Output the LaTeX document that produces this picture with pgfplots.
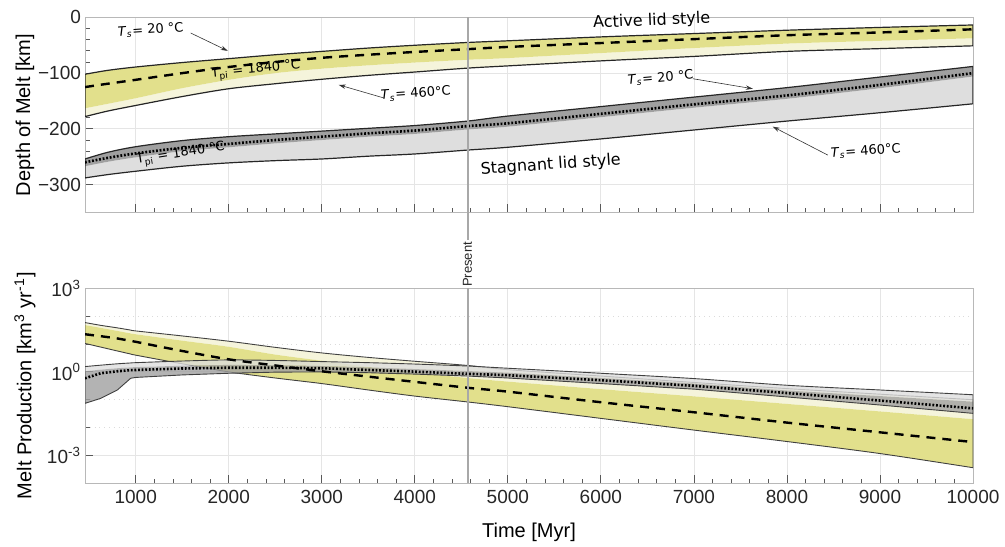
\documentclass[border=0pt]{standalone}
\usepackage{fontspec}
\setmainfont{Liberation Sans}
\newfontfamily\dv{DejaVu Sans}
\usepackage{pgfplots}
\usepackage{pgfplotstable}
\pgfplotsset{compat=1.18}
\usepgfplotslibrary{fillbetween}
\usetikzlibrary{arrows.meta}

\definecolor{ylw}{HTML}{E2E08C}
\definecolor{ylwpale}{HTML}{F5F4DB}
\definecolor{gdark}{HTML}{A0A0A0}
\definecolor{glight}{HTML}{DEDEDE}
\definecolor{presentc}{HTML}{A8A8A8}

% depth of melt [km]: active lid (a) and stagnant lid (s)
\pgfplotstableread{
t Ua Da Ma La Us Ds Ms Ls
455 -102 -125 -163 -178 -254 -260 -267 -288
700 -95 -119 -155 -168 -242 -252 -259 -282
1000 -89 -112 -145 -158 -232 -244 -251 -276
1500 -81 -100 -127 -142 -221 -234 -240 -267
2000 -74 -89 -112 -128 -214 -227 -233 -261
2500 -67 -80 -100 -119 -209 -220 -226 -257
3000 -61 -72.5 -92 -111 -204 -214 -220 -254
3500 -55 -67 -86 -104 -199 -208 -214 -249
4000 -50 -62 -81 -98 -194 -203 -209 -245
4567 -45 -57 -76 -91 -186 -195 -201 -238
5000 -42 -53 -73 -87 -177 -190 -196 -233
6000 -35 -46 -64 -78 -160 -173 -179 -218
7000 -29 -39 -55 -70 -143 -156 -162 -202
8000 -23 -32 -47 -61 -126 -140 -146 -186
9000 -18 -27 -42 -56 -107 -121 -127 -171
10000 -13.6 -21.4 -37.5 -51 -88 -100 -106 -155
}\depth

% melt production [km^3/yr]
\pgfplotstableread{
t Ua Da Ma La Us Ds Ms Ls
455 58.9 22.4 47.9 10.5 1.55 0.589 1.05 0.0741
624 46.8 19.1 38.0 7.76 1.74 0.891 1.20 0.112
803 38.0 15.8 29.5 5.62 1.95 1.05 1.35 0.224
946 31.6 12.9 24.0 4.37 2.09 1.15 1.45 0.589
1000 29.5 12.0 22.4 3.98 2.14 1.17 1.48 0.631
1500 19.5 5.62 13.2 1.95 2.45 1.32 1.66 0.776
2000 12.6 2.82 7.94 1.00 2.69 1.41 1.78 0.891
2500 7.59 1.70 4.17 0.603 2.57 1.41 1.74 0.977
3000 4.79 1.05 2.51 0.380 2.34 1.35 1.62 1.00
3500 3.31 0.676 1.51 0.224 2.14 1.17 1.45 0.933
4000 2.40 0.437 0.955 0.135 1.91 1.02 1.26 0.832
4567 1.70 0.269 0.603 0.0832 1.62 0.851 1.07 0.708
5000 1.20 0.195 0.447 0.0562 1.35 0.759 0.933 0.603
6000 0.708 0.0813 0.240 0.0214 0.891 0.501 0.603 0.380
7000 0.417 0.0355 0.132 0.00813 0.575 0.316 0.380 0.240
8000 0.251 0.0151 0.0708 0.00316 0.331 0.174 0.214 0.126
9000 0.158 0.00676 0.0380 0.00117 0.224 0.0933 0.135 0.0646
10000 0.100 0.00302 0.0200 0.000363 0.151 0.0490 0.0851 0.0324
}\prod

\pgfplotsset{
  mlstyle/.style={
    scale only axis, width=444pt,
    xmin=455, xmax=10000,
    xtick={1000,2000,3000,4000,5000,6000,7000,8000,9000,10000},
    scaled x ticks=false,
    minor x tick num=4,
    clip mode=individual,
    tick align=inside, xtick pos=bottom, ytick pos=left,
    major tick length=4pt, minor tick length=2.3pt,
    every tick/.style={black!65, line width=0.4pt},
    axis line style={black!28, line width=0.5pt},
    xmajorgrids, ymajorgrids,
    major grid style={black!10, line width=0.4pt},
    tick label style={font=\fontsize{9.5}{11}\selectfont, text=black!85},
    label style={font=\fontsize{11}{13}\selectfont, text=black!85},
    every axis y label/.style={at={(axis description cs:-0.0676,0.5)}, rotate=90, anchor=center},
    every axis x label/.style={at={(axis description cs:0.5,-0.251)}, anchor=center},
    yticklabel style={xshift=1.5pt},
  },
}
\tikzset{
  ann/.style={font=\dv\fontsize{6.5}{7.5}\selectfont, inner sep=0pt},
  big/.style={font=\dv\fontsize{8}{9}\selectfont, inner sep=0pt},
  arr/.style={-{Stealth[length=3.5pt,width=2.2pt]}, line width=0.3pt, black!80},
}

\begin{document}
\begin{tikzpicture}
% ---------------- depth of melt ----------------
\begin{axis}[mlstyle, at={(42.5pt,166.75pt)}, anchor=south west, height=97.55pt,
  ymin=-350, ymax=0,
  ytick={-300,-200,-100,0}, yticklabels={−300,−200,−100,0},
  minor y tick num=4,
  xticklabels={},
  ylabel={Depth of Melt [km]}]
\addplot[draw=none, smooth, name path=aU] table[x=t,y=Ua]{\depth};
\addplot[draw=none, smooth, name path=aM] table[x=t,y=Ma]{\depth};
\addplot[draw=none, smooth, name path=aL] table[x=t,y=La]{\depth};
\addplot[draw=none, smooth, name path=sU] table[x=t,y=Us]{\depth};
\addplot[draw=none, smooth, name path=sM] table[x=t,y=Ms]{\depth};
\addplot[draw=none, smooth, name path=sL] table[x=t,y=Ls]{\depth};
\addplot[fill=ylwpale, draw=none] fill between[of=aM and aL];
\addplot[fill=ylw, draw=none] fill between[of=aU and aM];
\addplot[fill=glight, draw=none] fill between[of=sM and sL];
\addplot[fill=gdark, draw=none] fill between[of=sU and sM];
\addplot[fill=none, draw=black!85, line width=0.6pt] fill between[of=aU and aL];
\addplot[fill=none, draw=black!85, line width=0.6pt] fill between[of=sU and sL];
\addplot[black, smooth, line width=1.2pt, dash pattern=on 4.5pt off 3.5pt] table[x=t,y=Da]{\depth};
\addplot[black, smooth, line width=1.3pt, dash pattern=on 0.9pt off 0.9pt] table[x=t,y=Ds]{\depth};
\draw[presentc, line width=1pt] (axis cs:4567,0) -- (axis cs:4567,-350);
\coordinate (pbot) at (axis cs:4567,-350);
% annotations
\node[big, rotate=2.5] at (axis cs:6547,-6.5) {Active lid style};
\node[big, rotate=4] at (axis cs:5461,-265) {Stagnant lid style};
\node[ann, rotate=4] at (axis cs:1161,-22.6) {\textit{T}\textsubscript{\textit{s}}= 20 °C};
\draw[arr] (axis cs:1591,-28) -- (axis cs:1989,-60);
\node[ann, rotate=6] at (axis cs:2290,-95) {T\textsubscript{pi} = 1840 °C};
\node[ann, rotate=4] at (axis cs:4010,-137) {\textit{T}\textsubscript{\textit{s}}= 460°C};
\draw[arr] (axis cs:3666,-144.5) -- (axis cs:3182,-121);
\node[ann, rotate=9] at (axis cs:1484,-246) {T\textsubscript{pi} = 1840 °C};
\node[ann, rotate=5] at (axis cs:6643,-109) {\textit{T}\textsubscript{\textit{s}}= 20 °C};
\draw[arr] (axis cs:6988,-110) -- (axis cs:7633,-128);
\node[ann, rotate=4] at (axis cs:8847,-240) {\textit{T}\textsubscript{\textit{s}}= 460°C};
\draw[arr] (axis cs:8439,-247) -- (axis cs:7847,-196);
\end{axis}
\draw[presentc, line width=1pt] (pbot) -- ++(0,-13.75pt)
  node[anchor=east, rotate=90, inner sep=0.5pt, text=black!85, font=\fontsize{6.5}{7.5}\selectfont] {Present};

% ---------------- melt production ----------------
\begin{axis}[mlstyle, at={(42.5pt,31.35pt)}, anchor=south west, height=97.5pt,
  ymode=log, ymin=1e-4, ymax=1e3,
  ytick={1e-3,1,1e3},
  yticklabels={10\textsuperscript{-3},10\textsuperscript{0},10\textsuperscript{3}},
  minor ytick={1e-4,1e-2,1e-1,10,100},
  yminorgrids, minor grid style={black!14, dotted, line width=0.4pt},
  xticklabels={1000,2000,3000,4000,5000,6000,7000,8000,9000,10000},
  xlabel={Time [Myr]},
  ylabel={Melt Production [km\textsuperscript{3} yr\textsuperscript{-1}]}]
\addplot[draw=none, smooth, name path=bU] table[x=t,y=Ua]{\prod};
\addplot[draw=none, smooth, name path=bM] table[x=t,y=Ma]{\prod};
\addplot[draw=none, smooth, name path=bL] table[x=t,y=La]{\prod};
\addplot[draw=none, smooth, name path=cU] table[x=t,y=Us]{\prod};
\addplot[draw=none, name path=cM] table[x=t,y=Ms]{\prod};
\addplot[draw=none, name path=cL] table[x=t,y=Ls]{\prod};
\addplot[fill=ylwpale, draw=none] fill between[of=bU and bM];
\addplot[fill=ylw, draw=none] fill between[of=bM and bL];
\addplot[fill=none, draw=black!75, line width=0.45pt] fill between[of=bU and bL];
\addplot[fill=glight, fill opacity=0.8, draw=none] fill between[of=cU and cM];
\addplot[fill=gdark, fill opacity=0.8, draw=none] fill between[of=cM and cL];
\addplot[fill=none, draw=black!75, line width=0.45pt] fill between[of=cU and cL];
\addplot[black, smooth, line width=1.2pt, dash pattern=on 4.5pt off 3.5pt] table[x=t,y=Da]{\prod};
\addplot[black, line width=1.3pt, dash pattern=on 0.9pt off 0.9pt] table[x=t,y=Ds]{\prod};
\draw[presentc, line width=1pt] (axis cs:4567,1e-4) -- (axis cs:4567,1e3);
\end{axis}
\pgfresetboundingbox
\useasboundingbox (0,0) rectangle (502.5pt,273pt);
\end{tikzpicture}
\end{document}
